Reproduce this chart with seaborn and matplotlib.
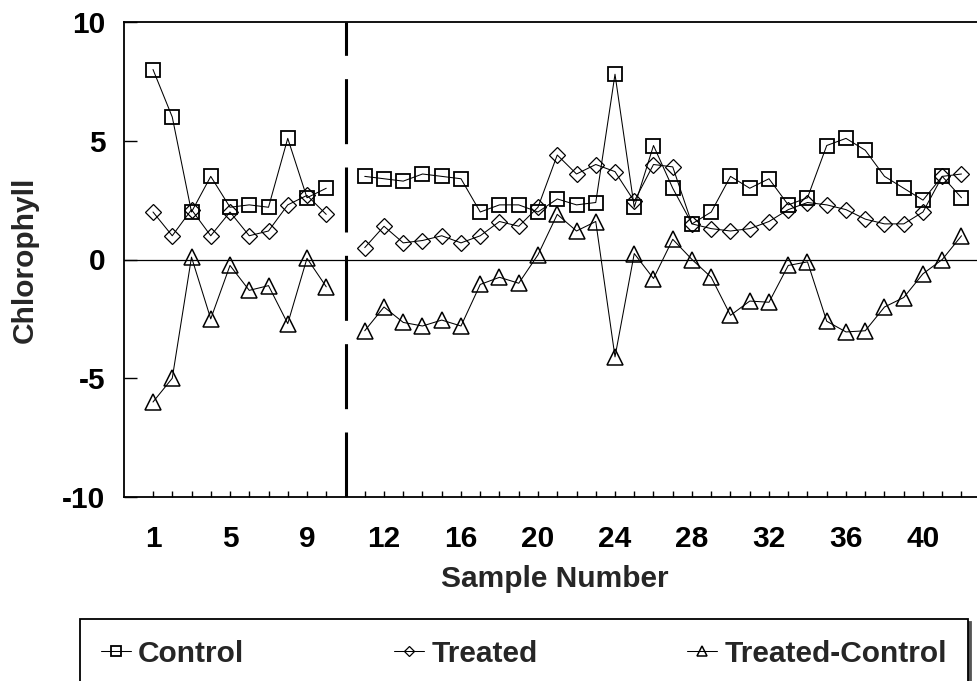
import matplotlib
matplotlib.use("Agg")
import matplotlib.pyplot as plt
import pandas as pd
import seaborn as sns

# Chlorophyll readings per sample
samples = list(range(1, 43))
control = [8.0, 6.0, 2.0, 3.5, 2.2, 2.3, 2.2, 5.1, 2.6, 3.0,
           3.5, 3.4, 3.3, 3.6, 3.5, 3.4, 2.0, 2.3, 2.3, 2.0,
           2.55, 2.3, 2.4, 7.8, 2.2, 4.8, 3.0, 1.5, 2.0, 3.5,
           3.0, 3.4, 2.3, 2.6, 4.8, 5.1, 4.6, 3.5, 3.0, 2.5, 3.5, 2.6]
treated = [2.0, 1.0, 2.1, 1.0, 2.0, 1.0, 1.2, 2.3, 2.7, 1.9,
           0.5, 1.4, 0.7, 0.8, 1.0, 0.7, 1.0, 1.6, 1.4, 2.2,
           4.4, 3.6, 4.0, 3.7, 2.45, 4.0, 3.9, 1.5, 1.3, 1.2,
           1.3, 1.6, 2.1, 2.4, 2.3, 2.1, 1.7, 1.5, 1.5, 2.0, 3.5, 3.6]
treated_minus_control = [-6.0, -5.0, 0.1, -2.5, -0.25, -1.3, -1.1, -2.7, 0.05, -1.15,
                         -3.0, -2.0, -2.65, -2.8, -2.55, -2.8, -1.05, -0.75, -1.0, 0.2,
                         1.9, 1.2, 1.6, -4.1, 0.25, -0.8, 0.85, 0.0, -0.75, -2.35,
                         -1.75, -1.8, -0.25, -0.1, -2.6, -3.05, -3.0, -2.0, -1.6, -0.6, 0.0, 1.0]
series_names = ["Control", "Treated", "Treated-Control"]
y_ticks = [-10, -5, 0, 5, 10]
last_first_batch = 10  # a blank slot separates the two sampling batches

# category slot for each sample (one empty slot after the first batch)
slots = [s if s <= last_first_batch else s + 1 for s in samples]
gap_slot = last_first_batch + 1
batch = ["first" if s <= last_first_batch else "second" for s in samples]

frames = []
for name, vals in zip(series_names, [control, treated, treated_minus_control]):
    frames.append(pd.DataFrame({"slot": slots, "value": vals,
                                "series": name, "batch": batch}))
df = pd.concat(frames, ignore_index=True)

FS = 21.5
sns.set_style("white")
plt.rcParams["font.family"] = ["Liberation Sans", "DejaVu Sans"]
plt.rcParams["font.size"] = FS
plt.rcParams["font.weight"] = "bold"

fig = plt.figure(figsize=(9.78, 6.81), dpi=100)
W, H = 978, 681
ax = fig.add_axes([124 / W, (H - 497) / H, (W - 124) / W, 475 / H])

markers = {"Control": "s", "Treated": "D", "Treated-Control": "^"}
sns.lineplot(data=df, x="slot", y="value", hue="series", style="series",
             units="batch", estimator=None, markers=markers, dashes=False,
             palette={n: "black" for n in series_names}, legend=False,
             linewidth=0.75, markerfacecolor="none", markeredgecolor="black",
             ax=ax, zorder=3)

msize = {"s": 10.5, "D": 8.0, "^": 11.0}
mew = {"s": 1.3, "D": 0.9, "^": 1.1}
handles = {}
for line in ax.lines:
    m = line.get_marker()
    if m in msize:
        line.set_markersize(msize[m])
        line.set_markeredgewidth(mew[m])
        line.set_markerfacecolor("none")
        line.set_markeredgecolor("black")
        handles.setdefault(m, line)

# zero reference and batch separator
ax.axhline(0, color="black", linewidth=0.9, zorder=2)
sep = ax.axvline(gap_slot, color="black", linewidth=2.2, zorder=2)
sep.set_dashes((46.8 / 2.2, 16.8 / 2.2))

px = 19.25
ax.set_xlim(1 - 29 / px, 1 + (W - 153) / px)
ax.set_ylim(-10, 10)
ax.set_yticks(y_ticks)
ax.set_yticklabels([str(v) for v in y_ticks])

all_slots = list(range(1, slots[-1] + 1))
labelled = set(range(1, slots[-1] + 1, 4))
xlabels = []
for p in all_slots:
    if p in labelled and p in slots:
        xlabels.append(str(samples[slots.index(p)]))
    else:
        xlabels.append("")
ax.set_xticks(all_slots)
ax.set_xticklabels(xlabels)

ax.tick_params(axis="x", bottom=True, direction="in", length=4.5, width=1,
               pad=20.5, color="black")
ax.tick_params(axis="y", left=True, direction="in", length=9.5, width=1,
               pad=13.5, color="black")
ax.tick_params(labelsize=FS, labelcolor="black")
for lab in ax.get_xticklabels() + ax.get_yticklabels():
    lab.set_fontweight("bold")

for side in ["left", "bottom", "top"]:
    ax.spines[side].set_color("black")
    ax.spines[side].set_linewidth(1.3)
ax.spines["right"].set_visible(False)

ax.set_xlabel("Sample Number", fontsize=FS, fontweight="bold", va="center")
ax.xaxis.set_label_coords((555 - 124) / 854, (497 - 579) / 475)
ax.set_ylabel("Chlorophyll", fontsize=FS, fontweight="bold", va="center")
ax.yaxis.set_label_coords((25 - 124) / 854, (497 - 260) / 475)

leg = fig.legend([handles["s"], handles["D"], handles["^"]], series_names,
                 loc="upper left", ncol=3, mode="expand",
                 bbox_to_anchor=(80 / W, 1 - 619 / H, (968 - 80) / W, 0),
                 borderaxespad=0, borderpad=0.7, handlelength=1.0,
                 handletextpad=0.25, markerscale=0.65,
                 prop={"size": FS, "weight": "bold"},
                 frameon=True, fancybox=False, edgecolor="black",
                 shadow={"color": "#555555", "alpha": 1.0})
leg.get_frame().set_linewidth(1.3)

fig.savefig("out.png", dpi=100)
